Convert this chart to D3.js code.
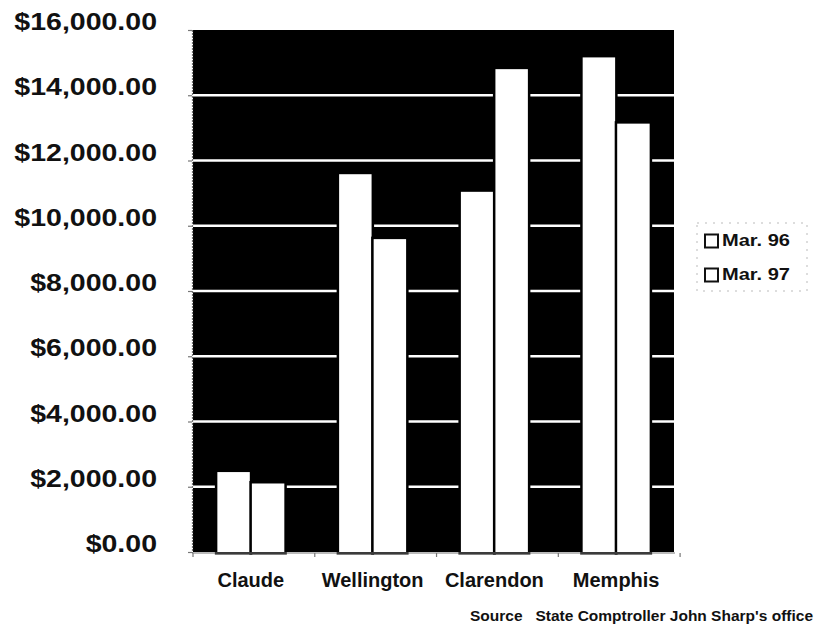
<!DOCTYPE html>
<html>
<head>
<meta charset="utf-8">
<script src="https://cdn.jsdelivr.net/npm/d3@7"></script>
<style>
  body { margin: 0; background: #fff; }
  svg { display: block; font-family: "Liberation Sans", Arial, sans-serif; font-weight: bold; }
</style>
</head>
<body>
<div id="chart"></div>
<script>
const towns = ["Claude", "Wellington", "Clarendon", "Memphis"];
const seriesNames = ["Mar. 96", "Mar. 97"];
const mar96 = [2450, 11580, 11040, 15160];
const mar97 = [2100, 9590, 14800, 13130];
const yTicks = [0, 2000, 4000, 6000, 8000, 10000, 12000, 14000, 16000];

const width = 817, height = 634;
const plot = { left: 193, right: 674, top: 30, bottom: 552 };

const svg = d3.select("#chart").append("svg")
    .attr("width", width)
    .attr("height", height);

const x0 = d3.scaleBand()
    .domain(towns)
    .range([plot.left, plot.right])
    .paddingInner(0.45)
    .paddingOuter(0.2);

const x1 = d3.scaleBand()
    .domain(seriesNames)
    .range([0, x0.bandwidth()])
    .paddingInner(0.06);

const y = d3.scaleLinear()
    .domain([0, 16000])
    .range([plot.bottom, plot.top]);

const fmt = v => "$" + d3.format(",.2f")(v);

// black plot area
svg.append("rect")
    .attr("x", plot.left)
    .attr("y", plot.top)
    .attr("width", plot.right - plot.left)
    .attr("height", plot.bottom - plot.top)
    .attr("fill", "#000");

// white gridlines
svg.append("g").selectAll("line")
    .data(yTicks.filter(v => v > 0 && v < 16000))
    .enter().append("line")
    .attr("x1", plot.left)
    .attr("x2", plot.right)
    .attr("y1", d => y(d))
    .attr("y2", d => y(d))
    .attr("stroke", "#fff")
    .attr("stroke-width", 2.6);

// bars
const rows = towns.map((t, i) => ({ town: t, values: [mar96[i], mar97[i]] }));

const groups = svg.append("g").selectAll("g")
    .data(rows)
    .enter().append("g")
    .attr("transform", d => `translate(${x0(d.town)},0)`);

groups.selectAll("rect")
    .data(d => d.values.map((v, i) => ({ key: seriesNames[i], value: v })))
    .enter().append("rect")
    .attr("x", d => x1(d.key))
    .attr("y", d => y(d.value))
    .attr("width", x1.bandwidth())
    .attr("height", d => plot.bottom - y(d.value))
    .attr("fill", "#fff")
    .attr("stroke", "#000")
    .attr("stroke-width", 5)
    .style("paint-order", "stroke");

// left axis
const yAxis = d3.axisLeft(y)
    .tickValues(yTicks)
    .tickSize(4)
    .tickFormat("");

const ga = svg.append("g")
    .attr("transform", `translate(${plot.left - 1},0)`)
    .call(yAxis);
ga.selectAll("path, line").attr("stroke", "#777").attr("stroke-width", 1.2);
ga.select("path").attr("stroke-dasharray", "2,1");

// y labels: the scanned type is a bit wide, so stretch it horizontally
svg.append("g").selectAll("text")
    .data(yTicks)
    .enter().append("text")
    .attr("transform", d => `translate(157,${y(d) - 6}) scale(1.24,1)`)
    .attr("text-anchor", "end")
    .attr("dominant-baseline", "middle")
    .style("font-size", "23px")
    .attr("fill", "#111")
    .text(d => fmt(d));

// bottom axis with ticks between categories
const step = x0.step();
const bounds = d3.range(towns.length + 1).map(i => plot.left + i * step);
svg.append("line")
    .attr("x1", plot.left - 1)
    .attr("x2", plot.right + 1)
    .attr("y1", plot.bottom + 1)
    .attr("y2", plot.bottom + 1)
    .attr("stroke", "#777")
    .attr("stroke-width", 1.2);
svg.append("g").selectAll("line")
    .data(bounds)
    .enter().append("line")
    .attr("x1", d => d)
    .attr("x2", d => d)
    .attr("y1", plot.bottom + 1)
    .attr("y2", plot.bottom + 5)
    .attr("stroke", "#777")
    .attr("stroke-width", 1.2);

svg.append("g").selectAll("text")
    .data(towns)
    .enter().append("text")
    .attr("x", d => x0(d) + x0.bandwidth() / 2)
    .attr("y", 582)
    .attr("text-anchor", "middle")
    .attr("dominant-baseline", "middle")
    .style("font-size", "20px")
    .attr("fill", "#111")
    .text(d => d);

// legend
const legend = svg.append("g");
legend.append("rect")
    .attr("x", 697)
    .attr("y", 223)
    .attr("width", 110)
    .attr("height", 68)
    .attr("fill", "none")
    .attr("stroke", "#bbb")
    .attr("stroke-width", 1)
    .attr("stroke-dasharray", "2,6");

const items = legend.selectAll("g.item")
    .data(seriesNames)
    .enter().append("g")
    .attr("class", "item")
    .attr("transform", (d, i) => `translate(704,${241 + i * 34})`);

items.append("rect")
    .attr("x", 1)
    .attr("y", -6.5)
    .attr("width", 13)
    .attr("height", 13)
    .attr("fill", "#fff")
    .attr("stroke", "#111")
    .attr("stroke-width", 2);

items.append("text")
    .attr("transform", "translate(18,1) scale(1.18,1)")
    .attr("dominant-baseline", "middle")
    .style("font-size", "17px")
    .attr("fill", "#111")
    .text(d => d);

// source note
svg.append("text")
    .attr("x", 813)
    .attr("y", 617)
    .attr("text-anchor", "end")
    .attr("dominant-baseline", "middle")
    .attr("xml:space", "preserve")
    .style("white-space", "pre")
    .style("font-size", "15.5px")
    .attr("fill", "#111")
    .text("Source   State Comptroller John Sharp's office");
</script>
</body>
</html>
